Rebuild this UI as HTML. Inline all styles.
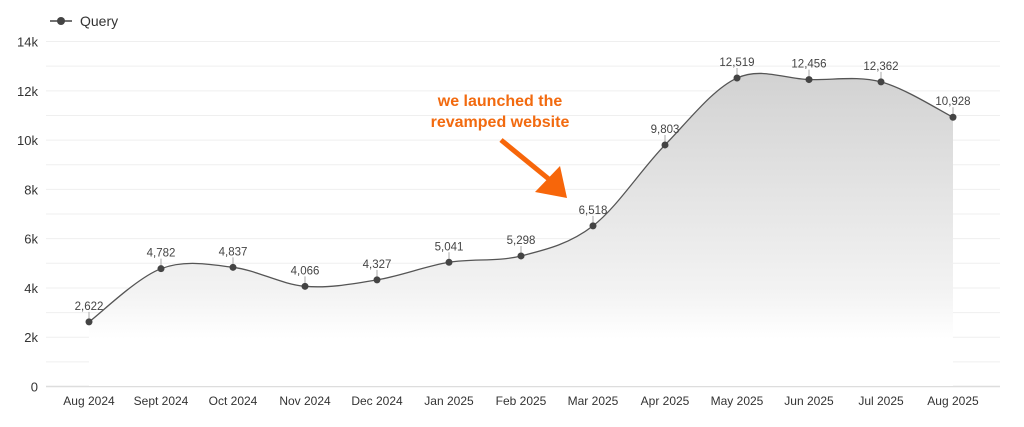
<!DOCTYPE html>
<html><head><meta charset="utf-8"><style>
html,body{margin:0;padding:0;background:#fff;}
svg{display:block;font-family:"Liberation Sans",sans-serif;}
</style></head><body>
<svg id="c" width="1024" height="427" viewBox="0 0 1024 427" xmlns="http://www.w3.org/2000/svg">
<defs><linearGradient id="g" x1="0" y1="0" x2="0" y2="1"><stop offset="0" stop-color="#d2d2d2"/><stop offset="0.7" stop-color="#f3f3f3"/><stop offset="0.85" stop-color="#ffffff"/><stop offset="1" stop-color="#ffffff"/></linearGradient></defs>
<g id="grid"></g>
<path id="area" fill="url(#g)"/>
<path id="line" fill="none" stroke="#555" stroke-width="1.3"/>
<g id="pts"></g>
<line x1="50" y1="21" x2="72" y2="21" stroke="#444" stroke-width="1.5"/><circle cx="61" cy="21" r="4" fill="#444"/>
<text x="80" y="26" font-size="14" fill="#333">Query</text>
<text x="500" y="106" font-size="16" fill="#f26a0f" text-anchor="middle" font-weight="bold">we launched the</text>
<text x="500" y="127" font-size="16" fill="#f26a0f" text-anchor="middle" font-weight="bold">revamped website</text>
<line x1="501" y1="140" x2="550" y2="180" stroke="#f7660a" stroke-width="5"/>
<polygon points="535,192 567,198 560,166" fill="#f7660a"/>
</svg>
<script>
var vals=[2622,4782,4837,4066,4327,5041,5298,6518,9803,12519,12456,12362,10928];
var labs=["Aug 2024","Sept 2024","Oct 2024","Nov 2024","Dec 2024","Jan 2025","Feb 2025","Mar 2025","Apr 2025","May 2025","Jun 2025","Jul 2025","Aug 2025"];
function Y(v){return 386.5-v*0.02464;}
function X(i){return 89+i*72;}
var s="";
for(var k=0;k<=14;k++){var y=Y(k*1000);s+='<line x1="46" x2="1000" y1="'+y+'" y2="'+y+'" stroke="'+(k==0?'#ddd':'#efefef')+'" stroke-width="'+(k==0?1.5:1)+'"/>';
if(k%2==0)s+='<text x="38" y="'+(y+5)+'" font-size="13" fill="#333" text-anchor="end">'+(k==0?'0':k+'k')+'</text>';}
labs.forEach(function(l,i){s+='<text x="'+X(i)+'" y="405" font-size="12" fill="#333" text-anchor="middle">'+l+'</text>';});
document.getElementById('grid').innerHTML=s;
var P=vals.map(function(v,i){return[X(i),Y(v)];});
var d="M"+P[0][0]+","+P[0][1];
for(var i=0;i<P.length-1;i++){var p0=P[Math.max(0,i-1)],p1=P[i],p2=P[i+1],p3=P[Math.min(P.length-1,i+2)];var t=6;
d+=" C"+(p1[0]+(p2[0]-p0[0])/t)+","+(p1[1]+(p2[1]-p0[1])/t)+" "+(p2[0]-(p3[0]-p1[0])/t)+","+(p2[1]-(p3[1]-p1[1])/t)+" "+p2[0]+","+p2[1];}
document.getElementById('line').setAttribute('d',d);
document.getElementById('area').setAttribute('d',d+" L953,386 L89,386 Z");
var q="";
P.forEach(function(p,i){q+='<line x1="'+p[0]+'" x2="'+p[0]+'" y1="'+(p[1]-10)+'" y2="'+p[1]+'" stroke="#aaa"/><circle cx="'+p[0]+'" cy="'+p[1]+'" r="3.5" fill="#444"/><text x="'+p[0]+'" y="'+(p[1]-12)+'" font-size="11.5" fill="#444" text-anchor="middle">'+vals[i].toLocaleString('en-US')+'</text>';});
document.getElementById('pts').innerHTML=q;
</script>
</body></html>
